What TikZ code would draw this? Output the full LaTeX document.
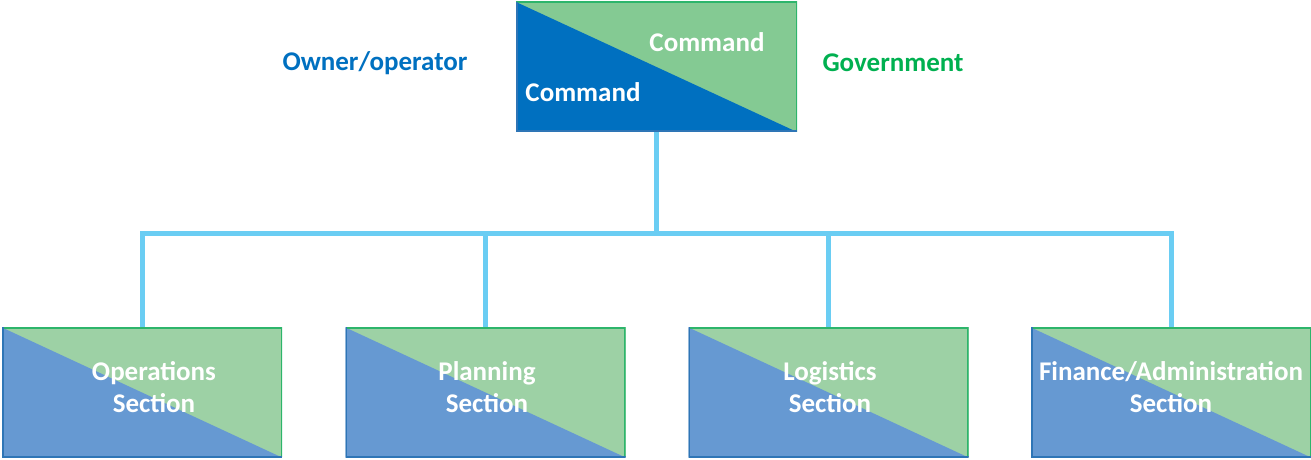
\documentclass[tikz,border=0pt]{standalone}
\usepackage{fontspec}
\setmainfont{Carlito}
\definecolor{ownblue}{HTML}{0070C0}
\definecolor{govgreen}{HTML}{00B050}
\definecolor{cmdgreen}{HTML}{84CA93}
\definecolor{secblue}{HTML}{6699D2}
\definecolor{secgreen}{HTML}{9DD1A5}
\definecolor{edgeblue}{HTML}{2E75B6}
\definecolor{edgegreen}{HTML}{2DB56B}
\definecolor{linkblue}{HTML}{6ACDF3}

\tikzset{
  split/.style n args={2}{minimum width=280pt, minimum height=130pt, inner sep=0pt,
    path picture={
      \fill[#2] (path picture bounding box.north west) rectangle (path picture bounding box.south east);
      \fill[#1] (path picture bounding box.north west) -- (path picture bounding box.south east)
        -- (path picture bounding box.south west) -- cycle;
      \draw[edgegreen, line width=3pt] (path picture bounding box.north west) -- (path picture bounding box.north east)
        -- (path picture bounding box.south east);
      \draw[edgeblue, line width=3pt] (path picture bounding box.north west) -- (path picture bounding box.south west)
        -- (path picture bounding box.south east);
    }},
  side/.style={font=\bfseries\fontsize{27}{32}\selectfont},
  sectext/.style={side, white, align=center},
  link/.style={linkblue, line width=5pt}
}

\begin{document}
\begin{tikzpicture}[x=1pt, y=1pt]
  \useasboundingbox (0,0) rectangle (1311,460);

  % Command box, shared by both sides
  \node[split={ownblue}{cmdgreen}, minimum width=281pt] (cmd) at (656.5,393) {};
  \node[side, white] (cmdgov) at (707,418) {Command};
  \node[side, white] (cmdown) at (583,368) {Command};

  % Side labels
  \node[side, ownblue] (owner) at (375,397) {Owner/operator};
  \node[side, govgreen] (gov) at (893,397) {Government};

  % Sections
  \node[split={secblue}{secgreen}] (ops) at (142,67.5) {};
  \node[split={secblue}{secgreen}] (plan) at (485.5,67.5) {};
  \node[split={secblue}{secgreen}] (logi) at (828.5,67.5) {};
  \node[split={secblue}{secgreen}] (fin) at (1171,67.5) {};

  \node[sectext] (opstext) at ([shift={(12,5)}]ops.center) {Operations\\Section};
  \node[sectext] (plantext) at ([shift={(1.5,5)}]plan.center) {Planning\\Section};
  \node[sectext] (logitext) at ([shift={(1.5,5)}]logi.center) {Logistics\\Section};
  \node[sectext] (fintext) at ([shift={(0,5)}]fin.center) {Finance/Administration\\Section};

  % Links
  \coordinate (bus) at (cmd.south |- 0,226);
  \draw[link] (cmd.south) -- (bus);
  \foreach \s in {ops,plan,logi,fin}
    \draw[link] (\s.north) |- (bus);
\end{tikzpicture}
\end{document}
